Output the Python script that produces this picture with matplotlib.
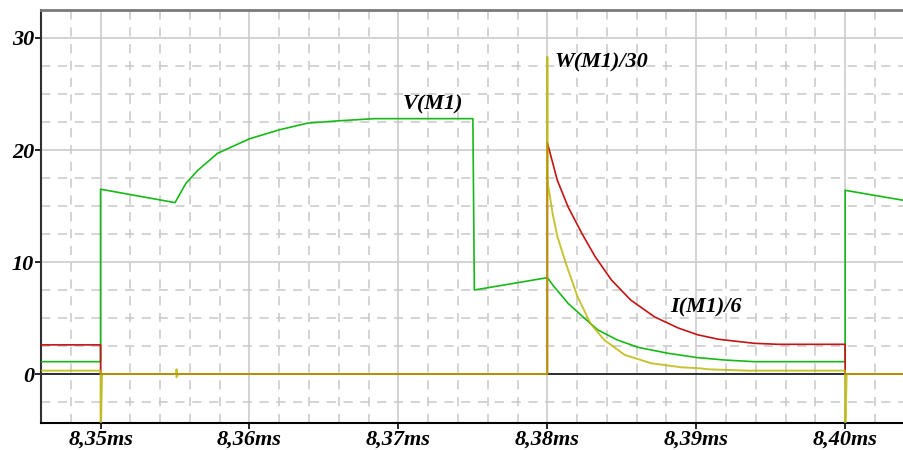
import numpy as np
import matplotlib
matplotlib.use("Agg")
import matplotlib.pyplot as plt

# time axis in ms
t_v = [8.3460, 8.3500, 8.3500, 8.3550, 8.35572, 8.3565, 8.35785, 8.3600, 8.3620,
       8.3639, 8.3659, 8.3684, 8.3750, 8.3751, 8.3800, 8.38045, 8.3814, 8.3825,
       8.3834, 8.3847, 8.3861, 8.3881, 8.3901, 8.3919, 8.3939, 8.4000, 8.4000, 8.40395]
v_m1 = [1.1, 1.1, 16.5, 15.3, 17.0, 18.15, 19.7, 21.0, 21.8,
        22.4, 22.6, 22.8, 22.8, 7.5, 8.6, 7.8, 6.3, 4.97,
        3.93, 3.04, 2.38, 1.85, 1.46, 1.25, 1.1, 1.1, 16.4, 15.5]

t_i = [8.3460, 8.3500, 8.3500, 8.3800, 8.3800, 8.38067, 8.3814, 8.3823, 8.3832,
       8.3843, 8.3856, 8.3872, 8.3888, 8.3901, 8.3915, 8.3939, 8.3955, 8.4000,
       8.4000, 8.40395]
i_m1 = [2.6, 2.6, 0, 0, 20.65, 17.3, 14.9, 12.6, 10.5,
        8.4, 6.6, 5.1, 4.1, 3.5, 3.1, 2.74, 2.65, 2.65,
        0, 0]

t_w = [8.3460, 8.3500, 8.3500, 8.3501, 8.3551, 8.3551, 8.3551, 8.3552, 8.3800,
       8.3800, 8.3800, 8.38035, 8.38067, 8.38124, 8.38203, 8.3829, 8.38382, 8.3852,
       8.3870, 8.3890, 8.3903, 8.3908, 8.3935, 8.4000, 8.4000, 8.4001, 8.40395]
w_m1 = [0.3, 0.3, -6, 0, 0, 0.4, -0.3, 0, 0,
        28.3, 17.3, 14.35, 12.3, 9.9, 6.9, 4.5, 3.04, 1.7,
        0.95, 0.6, 0.5, 0.42, 0.3, 0.3, -6, 0, 0]

x_ticks = [8.35, 8.36, 8.37, 8.38, 8.39, 8.40]
x_labels = ["8,35ms", "8,36ms", "8,37ms", "8,38ms", "8,39ms", "8,40ms"]
y_ticks = [0, 10, 20, 30]
y_labels = ["0", "10", "20", "30"]

font = {"family": "Liberation Serif", "weight": "bold", "style": "italic", "size": 16}

fig = plt.figure(figsize=(9.04, 4.5), dpi=100)
ax = fig.add_axes([41 / 904, 27 / 450, 863 / 904, 413 / 450])

ax.set_xlim(8.34603, 8.40395)
ax.set_ylim(-4.375, 32.5)

ax.set_xticks(x_ticks)
ax.set_xticks(np.arange(8.346, 8.404, 0.002), minor=True)
ax.set_yticks(y_ticks)
ax.set_yticks(np.arange(-2.5, 32.6, 2.5), minor=True)
ax.set_xticklabels(x_labels, fontdict=font)
ax.set_yticklabels(y_labels, fontdict=font)

ax.grid(which="major", color="#c8c8c8", lw=1.1, ls="-")
ax.grid(which="minor", color="#c8c8c8", lw=1.1, ls=(0, (6, 5)))
ax.set_axisbelow(True)
ax.tick_params(which="minor", length=0)
ax.tick_params(which="major", direction="out", length=4, width=1.2, pad=1)

ax.spines["right"].set_visible(False)
ax.spines["top"].set_color("#7a7a7a")
ax.spines["top"].set_linewidth(2)
ax.spines["left"].set_color("#303030")
ax.spines["left"].set_linewidth(1.5)
ax.spines["bottom"].set_color("black")
ax.spines["bottom"].set_linewidth(1.5)

ax.axhline(0, color="black", lw=1.1, zorder=2)

ax.plot(t_v, v_m1, color="#18b818", lw=1.2, zorder=3)
ax.plot(t_i, i_m1, color="#c41414", lw=1.2, zorder=4)
ax.plot(t_w, w_m1, color="#bab400", lw=1.4, alpha=0.8, zorder=5)

ax.text(8.37031, 23.6, "V(M1)", fontdict=font, va="baseline")
ax.text(8.38049, 27.4, "W(M1)/30", fontdict=font, va="baseline")
ax.text(8.38822, 5.45, "I(M1)/6", fontdict=font, va="baseline")

plt.savefig("out.png", dpi=100)
plt.close()
